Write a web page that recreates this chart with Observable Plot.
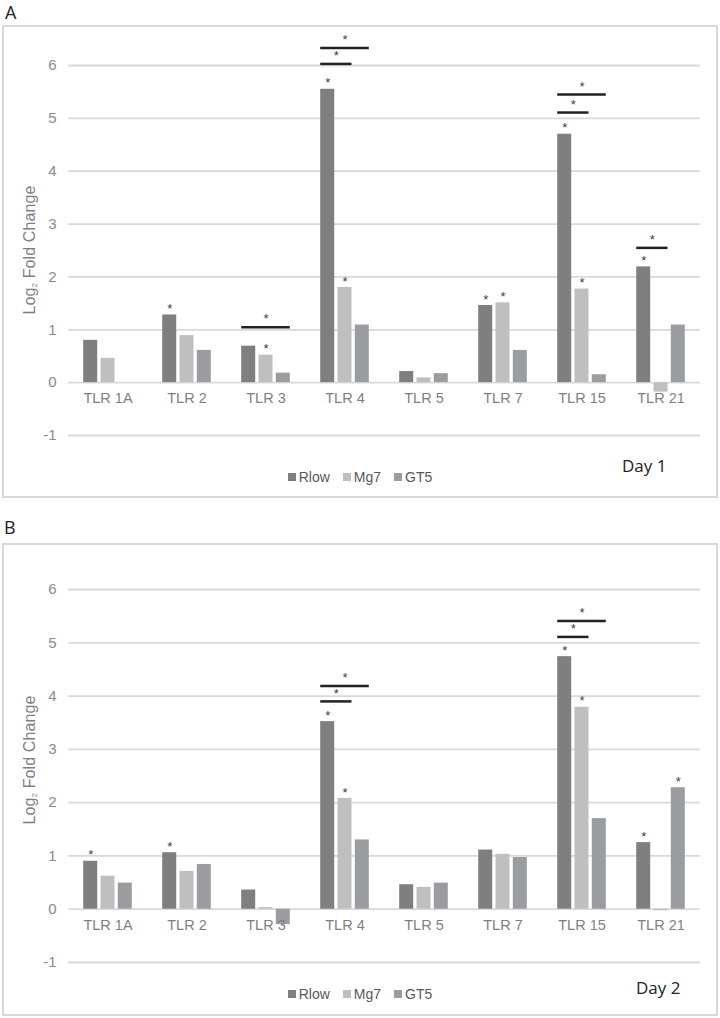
<!DOCTYPE html>
<html>
<head>
<meta charset="utf-8">
<script src="https://cdn.jsdelivr.net/npm/d3@7"></script>
<script src="https://cdn.jsdelivr.net/npm/@observablehq/plot@0.6"></script>
<style>
  html, body { margin: 0; padding: 0; background: #fff; }
  body { width: 720px; height: 1018px; position: relative; overflow: hidden; font-family: "Liberation Sans", Arial, sans-serif; }
  .plabel { position: absolute; font-family: "Open Sans", sans-serif; font-size: 18px; color: #222; line-height: 1; }
  .panel { position: absolute; left: 2px; width: 716px; height: 473px; box-sizing: border-box; border: 2px solid #d9d9d9; }
  .panel svg { position: absolute; left: 0; top: 0; }
  .ytitle { position: absolute; transform: translate(-50%, -50%) rotate(-90deg); white-space: nowrap; font-size: 16px; color: #7f7f7f; letter-spacing: 0.1px; }
  .ytitle sub { font-size: 8px; vertical-align: -2px; }
  .legend { position: absolute; left: 0; width: 100%; display: flex; justify-content: center; gap: 13px; font-size: 14px; color: #595959; line-height: 16px; }
  .legend span.sw { display: inline-block; width: 8px; height: 8px; margin-right: 3px; vertical-align: 1px; }
  .day { position: absolute; font-family: "Open Sans", sans-serif; font-size: 17px; color: #222; line-height: 1; }
</style>
</head>
<body>
<div class="plabel" style="left:5px; top:3px;">A</div>
<div class="panel" id="panelA" style="top:25px;"></div>
<div class="plabel" style="left:4px; top:518px;">B</div>
<div class="panel" id="panelB" style="top:543px;"></div>
<script>
// ---- data ----
const categories = ["TLR 1A", "TLR 2", "TLR 3", "TLR 4", "TLR 5", "TLR 7", "TLR 15", "TLR 21"];
const series = ["Rlow", "Mg7", "GT5"];
const seriesColors = ["#7f7f7f", "#bfbfbf", "#9a9c9f"];
const yTicks = [-1, 0, 1, 2, 3, 4, 5, 6];

// Day 1
const day1Rlow = [0.80, 1.28, 0.69, 5.55, 0.21, 1.46, 4.70, 2.19];
const day1Mg7  = [0.46, 0.89, 0.52, 1.80, 0.09, 1.51, 1.77, -0.18];
const day1GT5  = [0.00, 0.61, 0.18, 1.09, 0.17, 0.61, 0.15, 1.09];
const day1Stars = [["TLR 2", "Rlow"], ["TLR 3", "Mg7"], ["TLR 4", "Rlow"], ["TLR 4", "Mg7"], ["TLR 7", "Rlow"], ["TLR 7", "Mg7"], ["TLR 15", "Rlow"], ["TLR 15", "Mg7"], ["TLR 21", "Rlow"]];
const day1Brackets = [["TLR 3", "Rlow", "GT5", 1.05], ["TLR 4", "Rlow", "Mg7", 6.03], ["TLR 4", "Rlow", "GT5", 6.33], ["TLR 15", "Rlow", "Mg7", 5.11], ["TLR 15", "Rlow", "GT5", 5.45], ["TLR 21", "Rlow", "Mg7", 2.55]];

// Day 2
const day2Rlow = [0.90, 1.06, 0.36, 3.52, 0.46, 1.11, 4.74, 1.25];
const day2Mg7  = [0.62, 0.71, 0.03, 2.08, 0.41, 1.03, 3.79, -0.03];
const day2GT5  = [0.49, 0.84, -0.29, 1.30, 0.49, 0.97, 1.70, 2.28];
const day2Stars = [["TLR 1A", "Rlow"], ["TLR 2", "Rlow"], ["TLR 4", "Rlow"], ["TLR 4", "Mg7"], ["TLR 15", "Rlow"], ["TLR 15", "Mg7"], ["TLR 21", "Rlow"], ["TLR 21", "GT5"]];
const day2Brackets = [["TLR 4", "Rlow", "Mg7", 3.90], ["TLR 4", "Rlow", "GT5", 4.19], ["TLR 15", "Rlow", "Mg7", 5.11], ["TLR 15", "Rlow", "GT5", 5.41]];

// ---- chart builder ----
function buildPanel(container, cfg) {
  const vals = {Rlow: cfg.rlow, Mg7: cfg.mg7, GT5: cfg.gt5};
  const rows = categories.flatMap((c, i) => series.map(s => ({tlr: c, series: s, value: vals[s][i]})));
  const valueOf = (c, s) => vals[s][categories.indexOf(c)];
  const stars = cfg.stars.map(([c, s]) => ({tlr: c, series: s, value: Math.max(0, valueOf(c, s))}));
  const brackets = cfg.brackets.map(([c, from, to, y]) => ({tlr: c, from, to, y}));

  const base = {
    width: 711,
    height: cfg.height,
    marginLeft: 64,
    marginRight: 15,
    marginTop: cfg.marginTop,
    marginBottom: cfg.marginBottom,
    style: {fontFamily: "Liberation Sans, Arial, sans-serif", fontSize: "15px", color: "#8a8a8a", background: "transparent", overflow: "visible"},
    fx: {domain: categories, padding: 0, axis: null, round: false},
    x: {domain: series, paddingInner: 0.19, paddingOuter: 0.88, axis: null, round: false},
    y: {domain: [-1, 6], ticks: yTicks, tickSize: 0, tickPadding: 12, label: null, tickFormat: d => String(d)},
    color: {domain: series, range: seriesColors}
  };

  // first pass: read the library's x scale to find bracket midpoints
  const probe = Plot.plot({...base, marks: [Plot.barY(rows, {fx: "tlr", x: "series", y: "value", fill: "series"})]});
  const xs = probe.scale("x");
  brackets.forEach(b => { b.dx = (xs.apply(b.to) - xs.apply(b.from)) / 2; });

  const marks = [
    Plot.ruleY(yTicks, {stroke: "#d9d9d9", strokeWidth: 1.8}),
    Plot.barY(rows, {fx: "tlr", x: "series", y: "value", fill: "series"}),
    Plot.text(categories, {fx: d => d, y: () => 0, text: d => d, dy: 16, fill: "#7f7f7f", fontSize: 14.5, style: "letter-spacing:0.9px"}),
    Plot.text(stars, {fx: "tlr", x: "series", y: "value", text: () => "*", dy: -6, fill: "#404040", fontSize: 13}),
    Plot.ruleY(brackets, {fx: "tlr", x1: "from", x2: "to", y: "y", stroke: "#222", strokeWidth: 2.5})
  ];
  brackets.forEach(b => {
    marks.push(Plot.text([b], {fx: "tlr", x: "from", y: "y", text: () => "*", dx: b.dx, dy: -8, fill: "#404040", fontSize: 13}));
  });

  const svg = Plot.plot({...base, marks});
  container.appendChild(svg);

  const yt = document.createElement("div");
  yt.className = "ytitle";
  yt.style.left = "26px";
  yt.style.top = cfg.ytitleTop + "px";
  yt.innerHTML = "Log<sub>2</sub> Fold Change";
  container.appendChild(yt);

  const lg = document.createElement("div");
  lg.className = "legend";
  lg.style.top = cfg.legendTop + "px";
  lg.innerHTML = series.map((s, i) => `<div><span class="sw" style="background:${seriesColors[i]}"></span>${s}</div>`).join("");
  container.appendChild(lg);

  const day = document.createElement("div");
  day.className = "day";
  day.style.left = cfg.dayLeft + "px";
  day.style.top = cfg.dayTop + "px";
  day.textContent = cfg.dayLabel;
  container.appendChild(day);
}

buildPanel(document.getElementById("panelA"), {
  rlow: day1Rlow, mg7: day1Mg7, gt5: day1GT5, stars: day1Stars, brackets: day1Brackets,
  height: 430, marginTop: 38, marginBottom: 22, ytitleTop: 223, legendTop: 442, dayLeft: 618, dayTop: 430, dayLabel: "Day 1"
});
buildPanel(document.getElementById("panelB"), {
  rlow: day2Rlow, mg7: day2Mg7, gt5: day2GT5, stars: day2Stars, brackets: day2Brackets,
  height: 440, marginTop: 44, marginBottom: 23, ytitleTop: 215, legendTop: 441, dayLeft: 632, dayTop: 434, dayLabel: "Day 2"
});
</script>
</body>
</html>
